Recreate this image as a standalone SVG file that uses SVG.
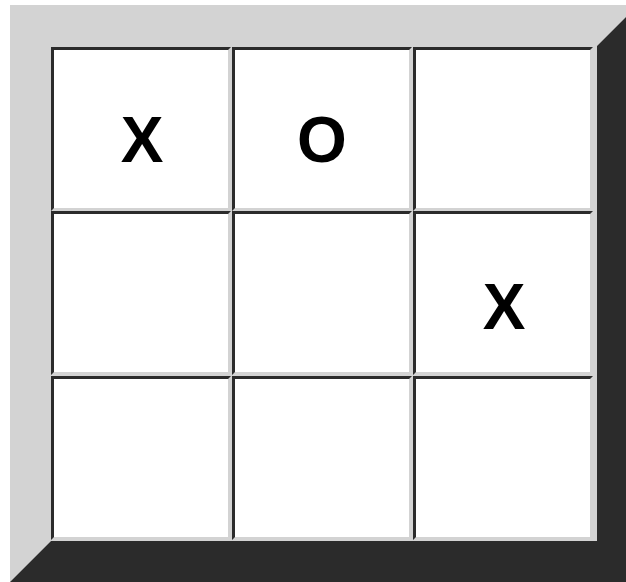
<svg xmlns="http://www.w3.org/2000/svg" width="626" height="582" viewBox="0 0 626 582">
<style>
.dk{fill:#2b2b2b}
.lt{fill:#d3d3d3}
.wh{fill:#ffffff}
.mark{font-family:"Liberation Sans",Arial,sans-serif;font-weight:bold;font-size:64px;fill:#000;text-anchor:middle}
</style>
<defs>
<g id="cell">
<rect class="dk" x="0" y="0" width="180" height="164"/>
<polygon class="lt" points="180,0 180,164 0,164 3,161 177,161 177,3"/>
<rect class="wh" x="3" y="3" width="174" height="158"/>
</g>
</defs>
<rect x="0" y="0" width="626" height="582" fill="#ffffff"/>
<g id="frame">
<polygon class="lt" points="10,5 638,5 597,46 51,46 51,541 10,582"/>
<polygon class="dk" points="638,5 638,582 10,582 51,541 597,541 597,46"/>
<rect class="lt" x="51" y="46" width="546" height="495"/>
</g>
<g id="cell-1-1"><use href="#cell" x="51" y="47"/><text class="mark" x="142" y="162">X</text></g>
<g id="cell-1-2"><use href="#cell" x="232" y="47"/><text class="mark" x="322" y="162">O</text></g>
<g id="cell-1-3"><use href="#cell" x="413" y="47" transform="translate(0,0)"/></g>
<g id="cell-2-1"><use href="#cell" x="51" y="211"/></g>
<g id="cell-2-2"><use href="#cell" x="232" y="211"/></g>
<g id="cell-2-3"><use href="#cell" x="413" y="211"/><text class="mark" x="504" y="329">X</text></g>
<g id="cell-3-1"><use href="#cell" x="51" y="376"/></g>
<g id="cell-3-2"><use href="#cell" x="232" y="376"/></g>
<g id="cell-3-3"><use href="#cell" x="413" y="376"/></g>
<g id="connectors"/>
</svg>
